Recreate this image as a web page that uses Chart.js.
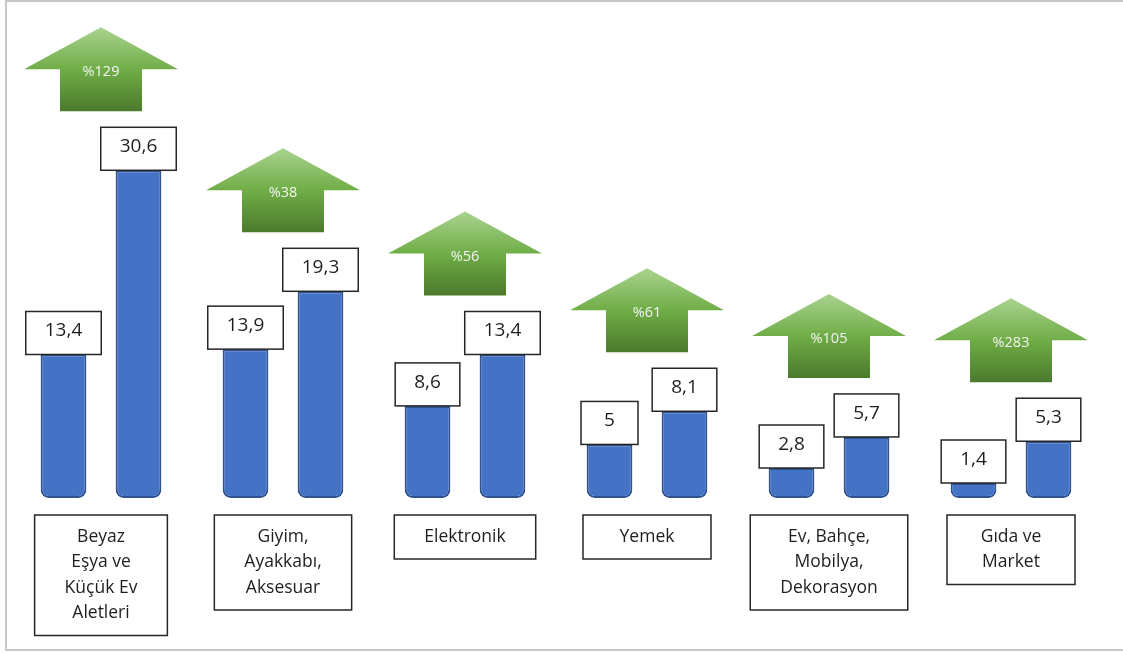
<!DOCTYPE html>
<html>
<head>
<meta charset="utf-8">
<script src="https://cdn.jsdelivr.net/npm/chart.js@4/dist/chart.umd.min.js"></script>
<style>
  html, body { margin: 0; padding: 0; background: #fff; }
  canvas { display: block; }
</style>
</head>
<body>
<canvas id="chart" width="1123" height="653"></canvas>
<script>
// kategoriler (satır satır), eski ve yeni değerler, artış yüzdeleri
const categories = [
  ['Beyaz', 'Eşya ve', 'Küçük Ev', 'Aletleri'],
  ['Giyim,', 'Ayakkabı,', 'Aksesuar'],
  ['Elektronik'],
  ['Yemek'],
  ['Ev, Bahçe,', 'Mobilya,', 'Dekorasyon'],
  ['Gıda ve', 'Market']
]
const oncekiDeger = [13.4, 13.9, 8.6, 5, 2.8, 1.4]
const sonrakiDeger = [30.6, 19.3, 13.4, 8.1, 5.7, 5.3]
const artisYuzde = [129, 38, 56, 61, 105, 283]

const FONT = '"Open Sans", "Noto Sans", sans-serif'

function sayi(v) {
  return String(v).replace('.', ',')
}

// çerçeve
const cerceve = {
  id: 'cerceve',
  beforeDraw(chart) {
    const ctx = chart.ctx
    ctx.save()
    ctx.fillStyle = '#fff'
    ctx.fillRect(0, 0, chart.width, chart.height)
    ctx.strokeStyle = '#c8c8c8'
    ctx.lineWidth = 2
    ctx.beginPath()
    ctx.moveTo(chart.width, 1)
    ctx.lineTo(6, 1)
    ctx.lineTo(6, 650)
    ctx.lineTo(chart.width, 650)
    ctx.stroke()
    ctx.restore()
  }
}

function kutu(ctx, x, y, w, h) {
  ctx.fillStyle = '#fff'
  ctx.fillRect(x, y, w, h)
  ctx.strokeStyle = '#262626'
  ctx.lineWidth = 1.5
  ctx.strokeRect(x, y, w, h)
}

function ok(ctx, cx, bottom, text) {
  const w = 154, shaft = 82, head = 42, h = 84
  const top = bottom - h
  const g = ctx.createLinearGradient(0, top, 0, bottom)
  g.addColorStop(0, '#a9d38f')
  g.addColorStop(0.5, '#70ad47')
  g.addColorStop(1, '#4b7a2c')
  ctx.fillStyle = g
  ctx.beginPath()
  ctx.moveTo(cx, top)
  ctx.lineTo(cx + w / 2, top + head)
  ctx.lineTo(cx + shaft / 2, top + head)
  ctx.lineTo(cx + shaft / 2, bottom)
  ctx.lineTo(cx - shaft / 2, bottom)
  ctx.lineTo(cx - shaft / 2, top + head)
  ctx.lineTo(cx - w / 2, top + head)
  ctx.closePath()
  ctx.fill()
  ctx.fillStyle = '#f4f4f4'
  ctx.font = '14.5px ' + FONT
  ctx.textAlign = 'center'
  ctx.textBaseline = 'middle'
  ctx.fillText(text, cx, top + head + 3)
}

// değer kutuları, oklar ve kategori kutuları
const etiketler = {
  id: 'etiketler',
  afterDatasetsDraw(chart) {
    const ctx = chart.ctx
    const m0 = chart.getDatasetMeta(0).data
    const m1 = chart.getDatasetMeta(1).data
    const x = chart.scales.x
    const base = chart.scales.y.getPixelForValue(0)
    ctx.save()
    categories.forEach((lines, i) => {
      const bars = [[m0[i], oncekiDeger[i]], [m1[i], sonrakiDeger[i]]]
      let enUst = Infinity
      bars.forEach(([bar, v]) => {
        ctx.font = '19px ' + FONT
        const t = sayi(v)
        const bw = Math.max(57, ctx.measureText(t).width + 38)
        const bh = 43
        const by = bar.y - bh
        kutu(ctx, bar.x - bw / 2, by, bw, bh)
        ctx.fillStyle = '#1e1e1e'
        ctx.textAlign = 'center'
        ctx.textBaseline = 'middle'
        ctx.fillText(t, bar.x, by + bh / 2 - 2)
        enUst = Math.min(enUst, by)
      })

      const cx = x.getPixelForValue(i)
      ok(ctx, cx, enUst - 16, '%' + artisYuzde[i])

      // kategori kutusu
      ctx.font = '17.5px ' + FONT
      let mw = 0
      lines.forEach(l => { mw = Math.max(mw, ctx.measureText(l).width) })
      const kw = Math.max(128, mw + 60)
      const lh = 25.5
      const kh = 44 + (lines.length - 1) * lh
      const ky = base + 17
      kutu(ctx, cx - kw / 2, ky, kw, kh)
      ctx.fillStyle = '#1e1e1e'
      ctx.textAlign = 'center'
      ctx.textBaseline = 'middle'
      lines.forEach((l, j) => {
        ctx.fillText(l, cx, ky + 22 + j * lh)
      })
    })
    ctx.restore()
  }
}

const barStyle = {
  backgroundColor: '#4472c4',
  borderColor: '#2f528f',
  borderWidth: 2,
  borderSkipped: false,
  borderRadius: { topLeft: 0, topRight: 0, bottomLeft: 8, bottomRight: 8 },
  categoryPercentage: 0.824,
  barPercentage: 0.61
}

new Chart(document.getElementById('chart'), {
  type: 'bar',
  data: {
    labels: categories,
    datasets: [
      Object.assign({ data: oncekiDeger }, barStyle),
      Object.assign({ data: sonrakiDeger }, barStyle)
    ]
  },
  options: {
    responsive: false,
    animation: false,
    layout: { padding: { left: 10, right: 21, top: 0, bottom: 155 } },
    plugins: {
      legend: { display: false },
      tooltip: { enabled: false }
    },
    scales: {
      x: { display: false },
      y: { display: false, min: 0, max: 46.5 }
    }
  },
  plugins: [cerceve, etiketler]
})
</script>
</body>
</html>
